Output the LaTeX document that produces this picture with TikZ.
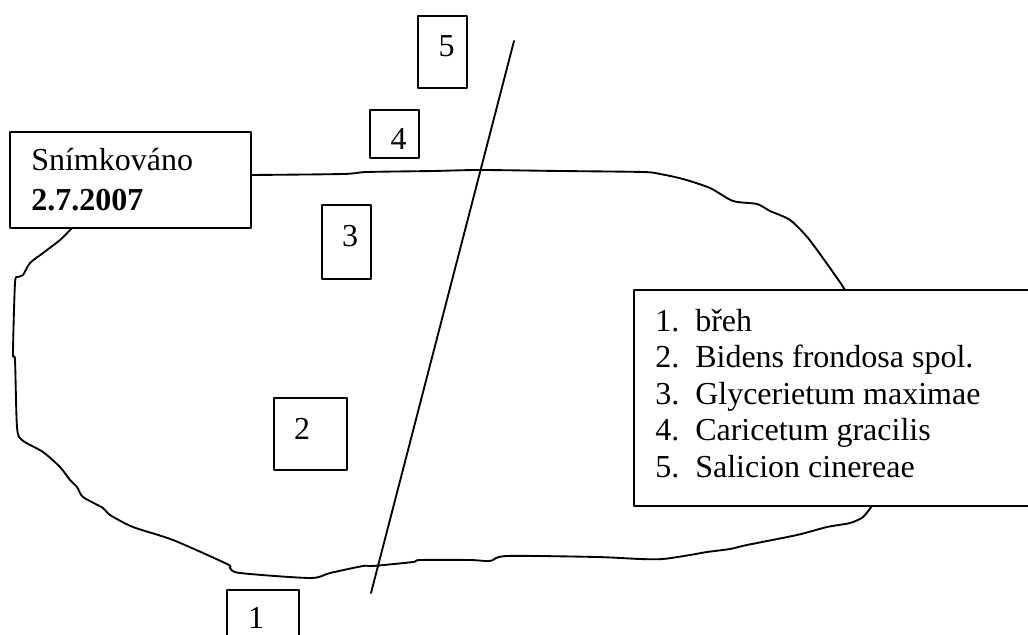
\documentclass[tikz,border=0pt]{standalone}
\usepackage{fontspec}
\setmainfont{Liberation Serif}
\usetikzlibrary{fit}
\begin{document}
\begin{tikzpicture}[x=0.75pt, y=-0.75pt,
  line join=round, line cap=round,
  outline/.style={line width=1.4pt},
  box/.style={draw, line width=1.4pt, inner sep=0pt, fill=white},
  num/.style={inner sep=0pt, font=\fontsize{24}{27}\selectfont},
  txt/.style={inner sep=0pt, anchor=base west, font=\fontsize{24}{27}\selectfont}]
\useasboundingbox (0,0) rectangle (1028,635);
\clip (0,0) rectangle (1028,635);

% shoreline of the pond (the part behind the legend is covered by it)
\draw[outline] plot[smooth, tension=0.45] coordinates {
  (251,175) (343,174) (367,172) (433,171) (480,170) (560,171) (643,172)
  (660,174) (683,179) (710,188) (733,201) (757,204) (770,211) (790,220)
  (808,238) (830,268) (845,290) (858,315) (900,400) (885,490) (872,506)
  (863,517) (850,523) (827,527)
  (797,535) (747,545) (730,549) (707,552) (690,555) (663,559) (640,559)
  (597,557) (507,556) (490,561) (470,560) (420,560) (413,562) (373,566)
  (363,566) (330,573) (310,578) (240,573) (230,568) (227,564) (173,540)
  (133,527) (110,515) (103,508) (83,497) (77,487) (70,480) (60,467)
  (43,452) (22,440) (17,427) (15,360) (13,353) (15,283) (18,277)
  (23,275) (30,263) (43,253) (60,240) (72,228)};

% transect line
\coordinate (ttop) at (514,41);
\coordinate (tbot) at (371,593);
\draw[outline] (ttop) -- (tbot);

% date box
\node[box, fit={(10,132) (251,228)}] (datebox) {};
\node[txt] (snim) at (31,170) {Snímkováno};
\node[txt] (date) at (31,210) {\bfseries 2.7.2007};

% sample plots
\node[box, fit={(418,16) (467,88)}] (b5) {};
\node[num] (t5) at (446.5,46.5) {5};
\node[box, fit={(370,110) (419,158)}] (b4) {};
\node[num] (t4) at (398.5,139) {4};
\node[box, fit={(322,205) (371,279)}] (b3) {};
\node[num] (t3) at (350,236) {3};
\node[box, fit={(274,398) (347,470)}] (b2) {};
\node[num] (t2) at (302,428.5) {2};
\node[box, fit={(227,590) (299,660)}] (b1) {};
\node[num] (t1) at (256,617.5) {1};

% legend
\node[box, fit={(634,290) (1045,506)}] (legend) {};
\node[txt] (l1) at (655,331) {\makebox[30pt][l]{1.}břeh};
\node[txt] (l2) at (655,367.5) {\makebox[30pt][l]{2.}Bidens frondosa spol.};
\node[txt] (l3) at (655,404) {\makebox[30pt][l]{3.}Glycerietum maximae};
\node[txt] (l4) at (655,440.5) {\makebox[30pt][l]{4.}Caricetum gracilis};
\node[txt] (l5) at (655,477) {\makebox[30pt][l]{5.}Salicion cinereae};
\end{tikzpicture}
\end{document}
